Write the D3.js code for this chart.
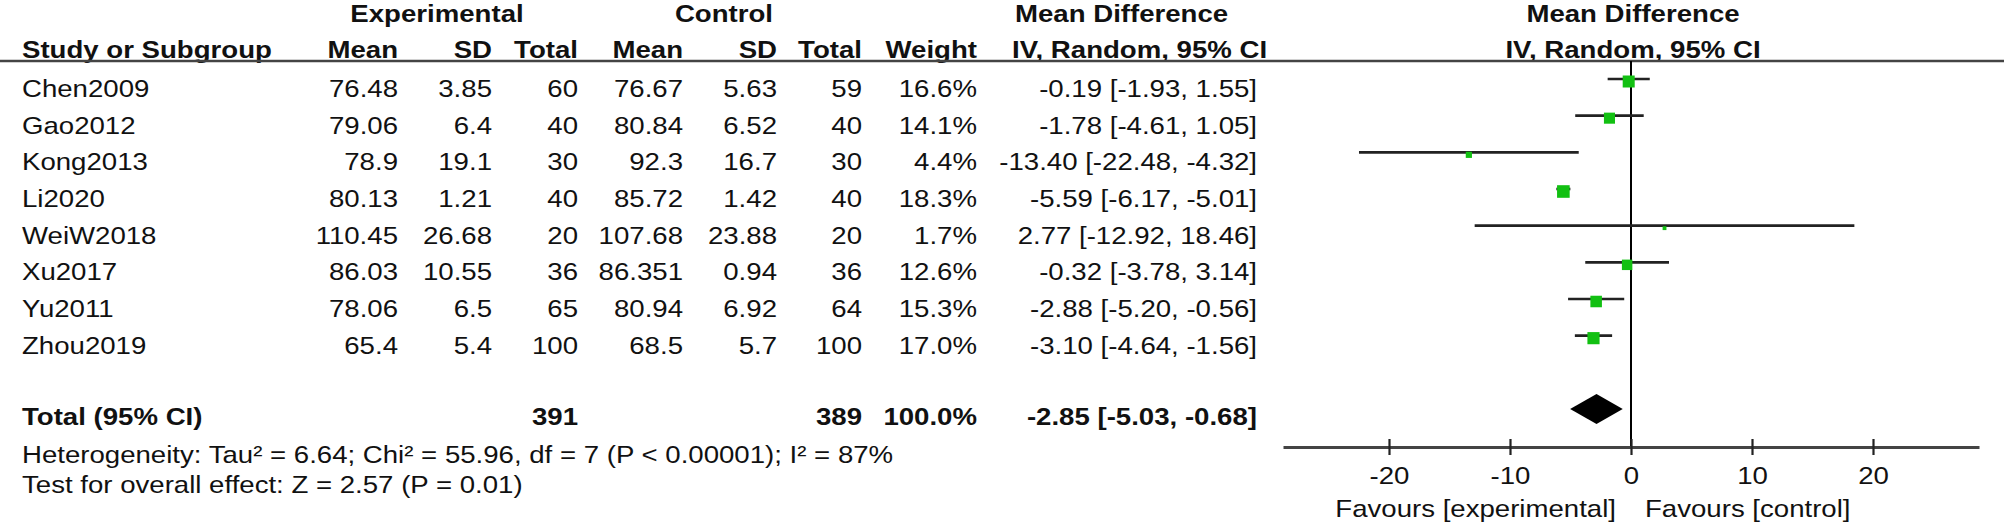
<!DOCTYPE html>
<html>
<head>
<meta charset="utf-8">
<title>Forest plot</title>
<script src="https://cdn.jsdelivr.net/npm/d3@7"></script>
<style>
  body { margin: 0; background: #fff; }
  text { font-family: "Liberation Sans", Arial, sans-serif; font-size: 24px; fill: #111; }
  .b { font-weight: bold; }
</style>
</head>
<body>
<script>
var studies = ["Chen2009", "Gao2012", "Kong2013", "Li2020", "WeiW2018", "Xu2017", "Yu2011", "Zhou2019"];
var expMean = [76.48, 79.06, 78.9, 80.13, 110.45, 86.03, 78.06, 65.4];
var expSD   = [3.85, 6.4, 19.1, 1.21, 26.68, 10.55, 6.5, 5.4];
var expN    = [60, 40, 30, 40, 20, 36, 65, 100];
var ctlMean = [76.67, 80.84, 92.3, 85.72, 107.68, 86.351, 80.94, 68.5];
var ctlSD   = [5.63, 6.52, 16.7, 1.42, 23.88, 0.94, 6.92, 5.7];
var ctlN    = [59, 40, 30, 40, 20, 36, 64, 100];
var weight  = [16.6, 14.1, 4.4, 18.3, 1.7, 12.6, 15.3, 17.0];
var md      = [-0.19, -1.78, -13.40, -5.59, 2.77, -0.32, -2.88, -3.10];
var ciLow   = [-1.93, -4.61, -22.48, -6.17, -12.92, -3.78, -5.20, -4.64];
var ciHigh  = [1.55, 1.05, -4.32, -5.01, 18.46, 3.14, -0.56, -1.56];

var totalN = [391, 389];
var totalWeight = 100.0;
var totalMD = [-2.85, -5.03, -0.68];   // estimate, low, high
var tickValues = [-20, -10, 0, 10, 20];
var hetText = "Heterogeneity: Tau\u00b2 = 6.64; Chi\u00b2 = 55.96, df = 7 (P < 0.00001); I\u00b2 = 87%";
var testText = "Test for overall effect: Z = 2.57 (P = 0.01)";

var W = 2008, H = 525, SX = 1.15;
var svg = d3.select("body").append("svg").attr("width", W).attr("height", H);
svg.append("rect").attr("width", W).attr("height", H).attr("fill", "#fff");

// text is a bit wide in the original, stretch it
function txt(x, y, s, anchor, bold) {
  return svg.append("text")
    .attr("transform", "translate(" + x + "," + y + ") scale(" + SX + ",1)")
    .attr("text-anchor", anchor || "start")
    .attr("class", bold ? "b" : null)
    .text(s);
}

// column right edges
var colX = [398, 492, 578, 683, 777, 862, 977, 1257];
var y = d3.scaleLinear().domain([0, 9]).range([79, 409]);
var x = d3.scaleLinear().domain([-28.76, 28.76]).range([1283, 1979]);
var size = d3.scaleSqrt().domain([0, 18.3]).range([0, 12.6]);

// headers
txt(437, 22, "Experimental", "middle", true);
txt(724, 22, "Control", "middle", true);
txt(1015, 22, "Mean Difference", "start", true);
txt(1633, 22, "Mean Difference", "middle", true);
txt(22, 58, "Study or Subgroup", "start", true);
["Mean", "SD", "Total", "Mean", "SD", "Total", "Weight"].forEach(function(h, i) {
  txt(colX[i], 58, h, "end", true);
});
txt(1012, 58, "IV, Random, 95% CI", "start", true);
txt(1633, 58, "IV, Random, 95% CI", "middle", true);

svg.append("line").attr("x1", 0).attr("x2", 2004).attr("y1", 61).attr("y2", 61)
  .attr("stroke", "#444").attr("stroke-width", 2.5);

// study rows
studies.forEach(function(s, i) {
  var by = y(i) + 18;
  txt(22, by, s);
  var vals = [String(expMean[i]), String(expSD[i]), String(expN[i]),
              String(ctlMean[i]), String(ctlSD[i]), String(ctlN[i]),
              weight[i].toFixed(1) + "%",
              md[i].toFixed(2) + " [" + ciLow[i].toFixed(2) + ", " + ciHigh[i].toFixed(2) + "]"];
  vals.forEach(function(v, j) { txt(colX[j], by, v, "end"); });
});

// total row
var ty = y(9) + 16;
txt(22, ty, "Total (95% CI)", "start", true);
txt(colX[2], ty, String(totalN[0]), "end", true);
txt(colX[5], ty, String(totalN[1]), "end", true);
txt(colX[6], ty, totalWeight.toFixed(1) + "%", "end", true);
txt(colX[7], ty, totalMD[0].toFixed(2) + " [" + totalMD[1].toFixed(2) + ", " + totalMD[2].toFixed(2) + "]", "end", true);

txt(22, 463, hetText);
txt(22, 493, testText);

// forest plot
var axisY = 447;
svg.append("line").attr("x1", x(0)).attr("x2", x(0)).attr("y1", 61).attr("y2", axisY)
  .attr("stroke", "#000").attr("stroke-width", 2);

var rows = svg.append("g");
studies.forEach(function(s, i) {
  rows.append("line")
    .attr("x1", x(ciLow[i])).attr("x2", x(ciHigh[i]))
    .attr("y1", y(i)).attr("y2", y(i))
    .attr("stroke", "#222").attr("stroke-width", 2.6);
  var sz = size(weight[i]);
  rows.append("rect")
    .attr("x", x(md[i]) - sz / 2).attr("y", y(i) + 2.5 - sz / 2)
    .attr("width", sz).attr("height", sz)
    .attr("fill", "#12c012");
});

var dy = y(9);
svg.append("path")
  .attr("d", "M" + x(totalMD[1]) + "," + dy + "L" + x(totalMD[0]) + "," + (dy - 15) +
             "L" + x(totalMD[2]) + "," + dy + "L" + x(totalMD[0]) + "," + (dy + 15) + "Z")
  .attr("fill", "#000");

var ax = svg.append("g").attr("transform", "translate(0," + axisY + ")")
  .call(d3.axisBottom(x).tickValues(tickValues).tickSizeOuter(0).tickSizeInner(16)
    .tickFormat(function(d) { return String(d); }));
ax.select(".domain").attr("stroke", "#444").attr("stroke-width", 3);
ax.selectAll(".tick line").attr("y1", -8).attr("y2", 8).attr("stroke", "#222").attr("stroke-width", 2.2);
ax.selectAll(".tick text")
  .attr("y", null).attr("dy", null)
  .attr("transform", "translate(0,37) scale(" + SX + ",1)")
  .attr("font-size", null).attr("font-family", null)
  .style("font-size", "24px").style("font-family", '"Liberation Sans", Arial, sans-serif')
  .attr("fill", "#111");

txt(x(0) - 15, 517, "Favours [experimental]", "end");
txt(x(0) + 14, 517, "Favours [control]", "start");
</script>
</body>
</html>
